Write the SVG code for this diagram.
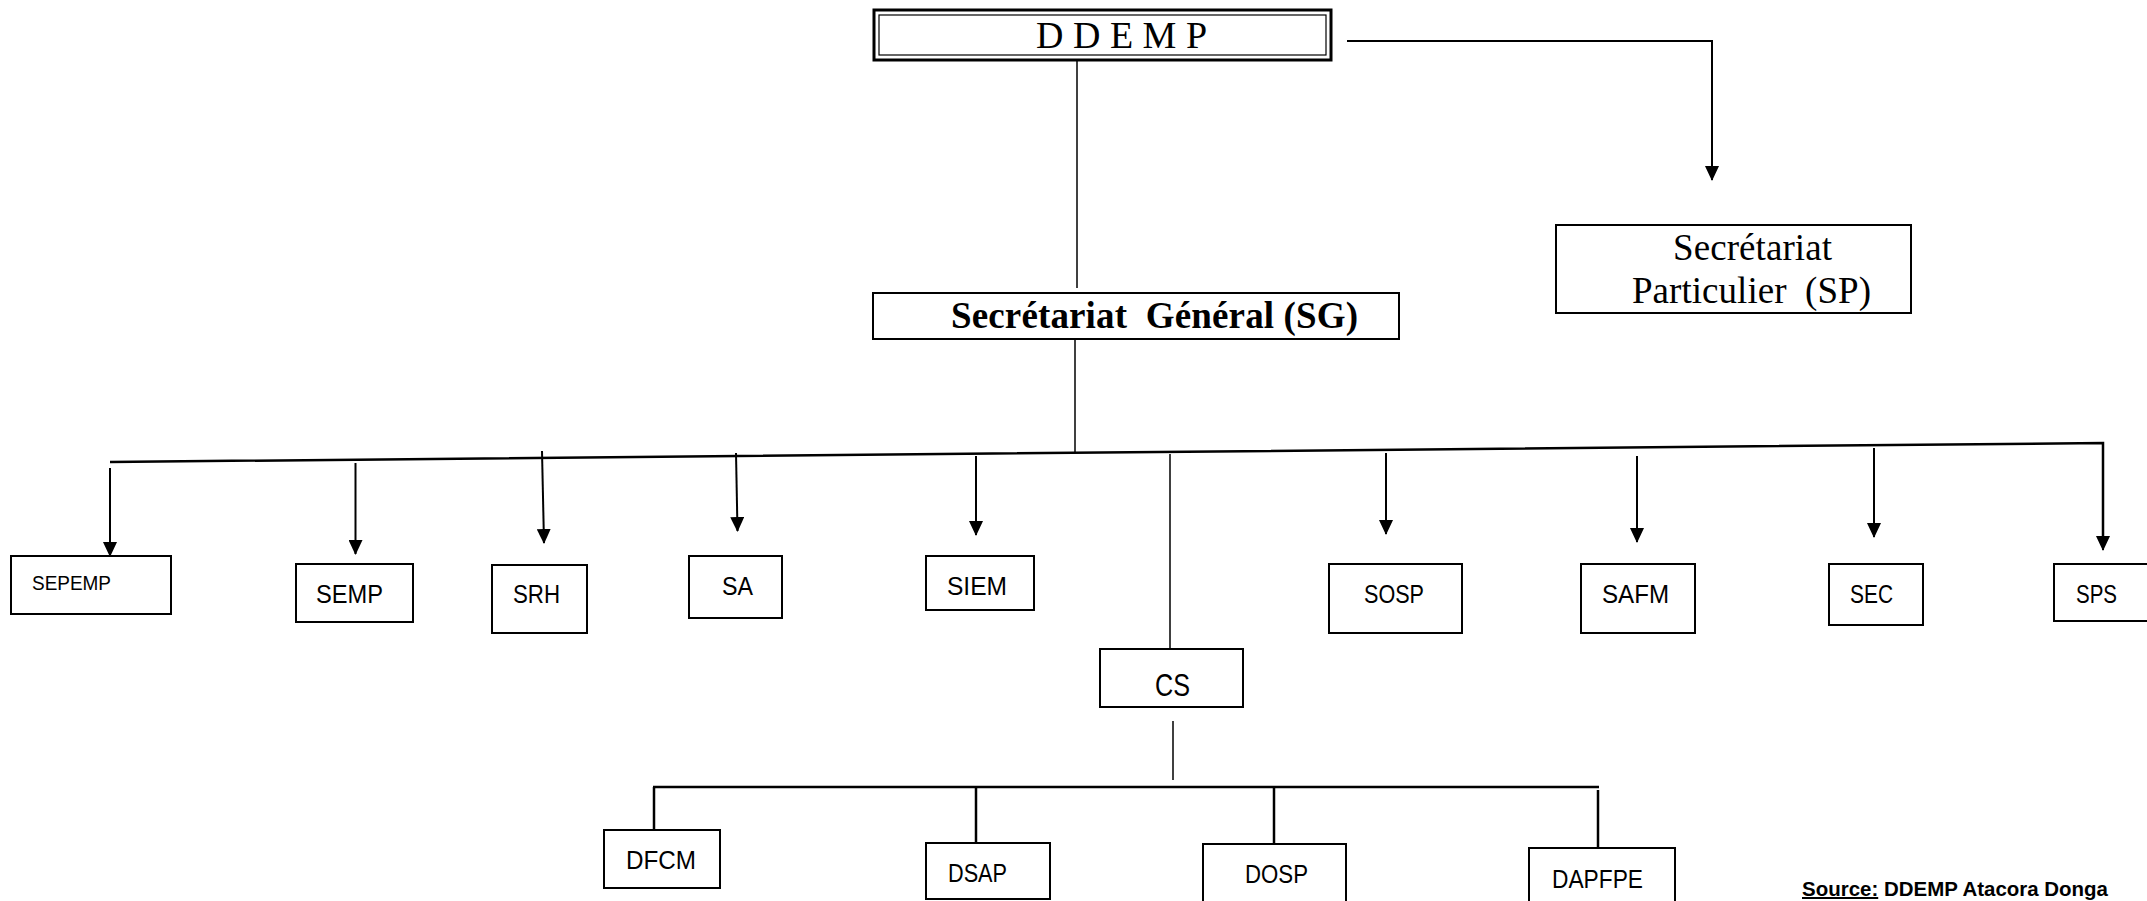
<svg xmlns="http://www.w3.org/2000/svg" width="2147" height="901" viewBox="0 0 2147 901">
  <style>
    .box { fill: #ffffff; stroke: #000000; stroke-width: 2; }
    .serif { font-family: "Liberation Serif", "Times New Roman", serif; fill: #000000; }
    .sans { font-family: "Liberation Sans", Arial, sans-serif; fill: #000000; font-size: 26px; }
    .thin { fill: none; stroke: #000000; stroke-width: 1.5; }
    .arr { fill: none; stroke: #000000; stroke-width: 2; marker-end: url(#ah); }
    .bus { fill: none; stroke: #000000; stroke-width: 2.5; }
  </style>
  <defs>
    <marker id="ah" markerUnits="userSpaceOnUse" viewBox="0 0 15 14" markerWidth="15" markerHeight="14" refX="14" refY="7" orient="auto">
      <path d="M0,0 L15,7 L0,14 Z" fill="#000000"/>
    </marker>
  </defs>
  <rect width="2147" height="901" fill="#ffffff"/>

  <g id="connectors">
    <line class="thin" x1="1077" y1="57" x2="1077" y2="288"/>
    <polyline class="arr" points="1347,41 1712,41 1712,180"/>
    <line class="thin" x1="1075" y1="339" x2="1075" y2="452"/>
    <polyline class="bus" points="110,462 2103,443 2103,536"/>
    <line class="arr" x1="2103" y1="530" x2="2103" y2="550"/>
    <line class="arr" x1="110" y1="468" x2="110" y2="556"/>
    <line class="arr" x1="355.5" y1="463" x2="355.5" y2="554"/>
    <line class="arr" x1="542" y1="451" x2="544" y2="543"/>
    <line class="arr" x1="736" y1="453" x2="737.5" y2="531"/>
    <line class="arr" x1="976" y1="456" x2="976" y2="535"/>
    <line class="thin" x1="1170" y1="454" x2="1170" y2="649"/>
    <line class="arr" x1="1386" y1="453" x2="1386" y2="534"/>
    <line class="arr" x1="1637" y1="456" x2="1637" y2="542"/>
    <line class="arr" x1="1874" y1="448" x2="1874" y2="537"/>
    <line class="thin" x1="1173" y1="721" x2="1173" y2="780"/>
    <line class="bus" x1="653" y1="787" x2="1599" y2="787"/>
    <line class="bus" x1="654" y1="787" x2="654" y2="830"/>
    <line class="bus" x1="976" y1="787" x2="976" y2="843"/>
    <line class="bus" x1="1274" y1="787" x2="1274" y2="844"/>
    <line class="bus" x1="1598" y1="790" x2="1598" y2="848"/>
  </g>

  <g id="ddemp">
    <rect x="874" y="10" width="457" height="50" fill="#ffffff" stroke="#000000" stroke-width="3"/>
    <rect x="879" y="15" width="447" height="40" fill="none" stroke="#000000" stroke-width="1.2"/>
    <text class="serif" x="1036" y="48" font-size="38">D D E M P</text>
  </g>

  <g id="sg">
    <rect class="box" x="873" y="293" width="526" height="46"/>
    <text class="serif" x="951" y="328" font-size="37" font-weight="bold" textLength="407" xml:space="preserve">Secrétariat  Général (SG)</text>
  </g>

  <g id="sp">
    <rect class="box" x="1556" y="225" width="355" height="88"/>
    <text class="serif" x="1673" y="260" font-size="37" textLength="159">Secrétariat</text>
    <text class="serif" x="1632" y="303" font-size="37" textLength="239" xml:space="preserve">Particulier  (SP)</text>
  </g>

  <g id="sepemp">
    <rect class="box" x="11" y="556" width="160" height="58"/>
    <text class="sans" x="32" y="590" style="font-size:21px" textLength="79" lengthAdjust="spacingAndGlyphs">SEPEMP</text>
  </g>
  <g id="semp">
    <rect class="box" x="296" y="564" width="117" height="58"/>
    <text class="sans" x="316" y="603" textLength="67" lengthAdjust="spacingAndGlyphs">SEMP</text>
  </g>
  <g id="srh">
    <rect class="box" x="492" y="565" width="95" height="68"/>
    <text class="sans" x="513" y="603" textLength="47" lengthAdjust="spacingAndGlyphs">SRH</text>
  </g>
  <g id="sa">
    <rect class="box" x="689" y="556" width="93" height="62"/>
    <text class="sans" x="722" y="595" textLength="31" lengthAdjust="spacingAndGlyphs">SA</text>
  </g>
  <g id="siem">
    <rect class="box" x="926" y="556" width="108" height="54"/>
    <text class="sans" x="947" y="595" textLength="60" lengthAdjust="spacingAndGlyphs">SIEM</text>
  </g>
  <g id="cs">
    <rect class="box" x="1100" y="649" width="143" height="58"/>
    <text class="sans" x="1155" y="696" style="font-size:32px" textLength="35" lengthAdjust="spacingAndGlyphs">CS</text>
  </g>
  <g id="sosp">
    <rect class="box" x="1329" y="564" width="133" height="69"/>
    <text class="sans" x="1364" y="603" textLength="60" lengthAdjust="spacingAndGlyphs">SOSP</text>
  </g>
  <g id="safm">
    <rect class="box" x="1581" y="564" width="114" height="69"/>
    <text class="sans" x="1602" y="603" textLength="67" lengthAdjust="spacingAndGlyphs">SAFM</text>
  </g>
  <g id="sec">
    <rect class="box" x="1829" y="564" width="94" height="61"/>
    <text class="sans" x="1850" y="603" textLength="43" lengthAdjust="spacingAndGlyphs">SEC</text>
  </g>
  <g id="sps">
    <rect class="box" x="2054" y="564" width="120" height="57"/>
    <text class="sans" x="2076" y="603" textLength="41" lengthAdjust="spacingAndGlyphs">SPS</text>
  </g>

  <g id="dfcm">
    <rect class="box" x="604" y="830" width="116" height="58"/>
    <text class="sans" x="626" y="869" textLength="70" lengthAdjust="spacingAndGlyphs">DFCM</text>
  </g>
  <g id="dsap">
    <rect class="box" x="926" y="843" width="124" height="56"/>
    <text class="sans" x="948" y="882" textLength="59" lengthAdjust="spacingAndGlyphs">DSAP</text>
  </g>
  <g id="dosp">
    <rect class="box" x="1203" y="844" width="143" height="70"/>
    <text class="sans" x="1245" y="883" textLength="63" lengthAdjust="spacingAndGlyphs">DOSP</text>
  </g>
  <g id="dapfpe">
    <rect class="box" x="1529" y="848" width="146" height="70"/>
    <text class="sans" x="1552" y="888" textLength="91" lengthAdjust="spacingAndGlyphs">DAPFPE</text>
  </g>

  <g id="source">
    <text class="sans" x="1802" y="896" style="font-size:20px" font-weight="bold" textLength="306" lengthAdjust="spacingAndGlyphs"><tspan text-decoration="underline">Source:</tspan> DDEMP Atacora Donga</text>
  </g>
</svg>
